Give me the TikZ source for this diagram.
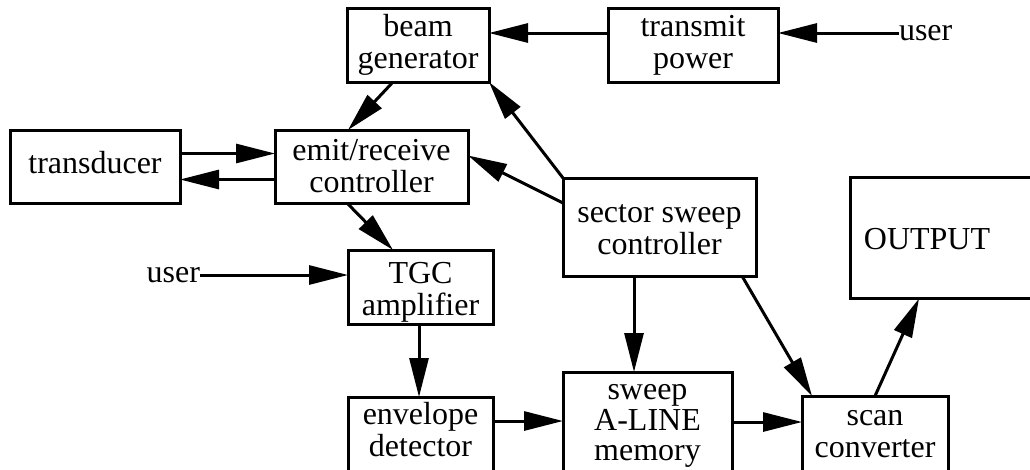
\documentclass[tikz,border=0pt]{standalone}
\usepackage{fontspec}
\setmainfont{Liberation Serif}
\usetikzlibrary{arrows.meta}
\begin{document}
\begin{tikzpicture}[x=1pt,y=-1pt,
  font=\fontsize{32}{32}\selectfont,
  box/.style={draw, line width=3pt, inner sep=0pt, outer sep=0pt, align=center},
  txt/.style={inner sep=0pt, outer sep=0pt, align=center},
  arr/.style={line width=3pt, -{Triangle[length=39pt,width=19pt]}},
  lbl/.style={inner sep=0pt, outer sep=0pt}]
\useasboundingbox (0,0) rectangle (1030,469);
\clip (0,0) rectangle (1030,469);
% boxes
\node[box, minimum width=142pt, minimum height=74pt] (beam) at (418,45) {beam\\generator};
\node[box, minimum width=170pt, minimum height=74pt] (transmit) at (693,45) {transmit\\power};
\node[box, minimum width=170pt, minimum height=73pt,
  label={[txt,yshift=4pt]center:transducer}] (transducer) at (95,166.5) {};
\node[box, minimum width=193pt, minimum height=73pt] (emit) at (371.5,166.5) {emit/receive\\controller};
\node[box, minimum width=193pt, minimum height=98pt,
  label={[txt,yshift=-3pt]center:sector sweep\\controller}] (sector) at (659.5,227) {};
\node[box, minimum width=192pt, minimum height=121pt,
  label={[txt,xshift=-19pt,yshift=-1pt]center:OUTPUT}] (output) at (946,238) {};
\node[box, minimum width=145pt, minimum height=74pt,
  label={[txt,yshift=-5pt]center:TGC\\amplifier}] (tgc) at (420.5,287) {};
\node[box, minimum width=145pt, minimum height=75pt,
  label={[txt,yshift=4.5pt]center:envelope\\detector}] (envelope) at (420.5,434.5) {};
\node[box, minimum width=169pt, minimum height=100pt,
  label={[txt,yshift=-4pt,font=\fontsize{32}{30.5}\selectfont]center:sweep\\A-LINE\\memory}] (sweep) at (647.5,422) {};
\node[box, minimum width=146pt, minimum height=76pt,
  label={[txt]center:scan\\converter}] (scan) at (875,434) {};
% user labels
\node[lbl, anchor=west] (usertop) at (899,33) {user};
\node[lbl, anchor=east] (userleft) at (200,275) {user};
% connectors
\draw[arr] (usertop.west) -- (usertop.west -| transmit.east);
\draw[arr] ([yshift=12pt]transmit.west) -- ([yshift=12pt]beam.east);
\draw[arr] ([xshift=-25pt]beam.south) -- ([xshift=-23.5pt]emit.north);
\draw[arr] ([yshift=13pt]transducer.east) -- ([yshift=13pt]emit.west);
\draw[arr] ([yshift=-13pt]emit.west) -- ([yshift=-13pt]transducer.east);
\draw[arr] ([yshift=24pt]sector.west) -- ([yshift=11pt]emit.east);
\draw[arr] (sector.north west) -- (beam.south east);
\draw[arr] ([xshift=-24.5pt]emit.south) -- ([xshift=-27.5pt]tgc.north);
\draw[arr] (userleft.east) -- (userleft.east -| tgc.west);
\draw[arr] ([xshift=-1.5pt]tgc.south) -- ([xshift=-1.5pt]envelope.north);
\draw[arr] ([xshift=-25.5pt]sector.south) -- ([xshift=-13.5pt]sweep.north);
\draw[arr] ([xshift=82.5pt]sector.south) -- ([xshift=-63pt]scan.north);
\draw[arr] ([yshift=13.5pt]envelope.east) -- ([yshift=1pt]sweep.west);
\draw[arr] (sweep.east) -- ([yshift=12pt]scan.west);
\draw[arr] (scan.north) -- ([xshift=-27pt]output.south);
\end{tikzpicture}
\end{document}
